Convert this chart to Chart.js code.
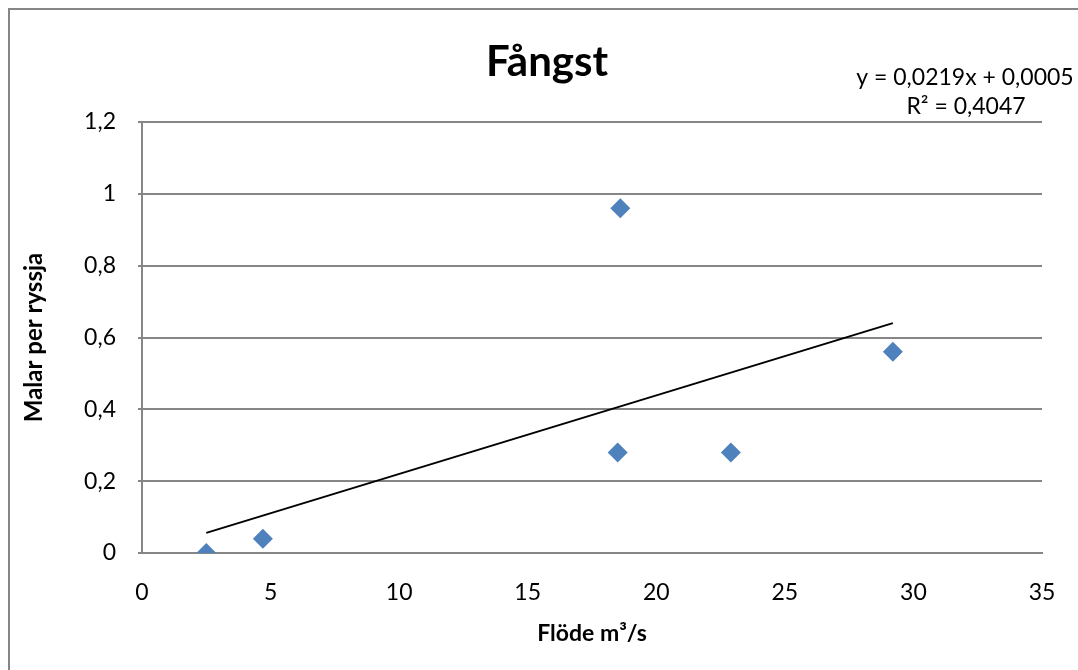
<!DOCTYPE html>
<html>
<head>
<meta charset="utf-8">
<script src="https://cdn.jsdelivr.net/npm/chart.js@4"></script>
<style>
  html, body { margin: 0; padding: 0; background: #fff; }
  canvas { display: block; }
</style>
</head>
<body>
<canvas id="catchChart" width="1078" height="670"></canvas>
<script>
const flow = [2.5, 4.7, 18.5, 18.6, 22.9, 29.2];
const catchPerNet = [0, 0.04, 0.28, 0.96, 0.28, 0.56];
const trendX = [2.5, 29.2];
const trendY = [0.056, 0.64];
const chartTitle = 'Fångst';
const equationLines = ['y = 0,0219x + 0,0005', 'R² = 0,4047'];

const FONT = 'Lato, "Open Sans", sans-serif';
const GRID = '#868686';

function toPoints(xs, ys) {
	return xs.map((x, i) => ({ x: x, y: ys[i] }));
}

// frame round the whole chart, title and trendline equation
const extras = {
	id: 'extras',
	beforeDraw(chart) {
		const ctx = chart.ctx;
		ctx.save();
		ctx.fillStyle = '#fff';
		ctx.fillRect(0, 0, chart.width, chart.height);
		ctx.strokeStyle = GRID;
		ctx.lineWidth = 2;
		ctx.strokeRect(9, 9, chart.width + 20, chart.height + 20);
		ctx.restore();
	},
	afterDraw(chart) {
		const ctx = chart.ctx;
		ctx.save();
		ctx.fillStyle = '#000';
		ctx.textAlign = 'center';
		ctx.textBaseline = 'middle';
		ctx.font = 'bold 42px ' + FONT;
		ctx.fillText(chartTitle, 547, 62);
		ctx.font = '23px ' + FONT;
		ctx.fillText(equationLines[0], 965, 78);
		ctx.fillText(equationLines[1], 966, 107);
		ctx.restore();
	}
};

new Chart(document.getElementById('catchChart'), {
	type: 'scatter',
	data: {
		datasets: [{
			label: 'Fångst',
			data: toPoints(flow, catchPerNet),
			pointStyle: 'rectRot',
			pointRadius: 10,
			pointHoverRadius: 10,
			backgroundColor: '#4F81BD',
			borderColor: '#4F81BD',
			borderWidth: 0,
			order: 1
		}, {
			label: 'Trend',
			type: 'line',
			data: toPoints(trendX, trendY),
			borderColor: '#000',
			borderWidth: 2,
			pointRadius: 0,
			fill: false,
			order: 2
		}]
	},
	options: {
		responsive: false,
		animation: false,
		devicePixelRatio: 1,
		layout: { padding: { left: 0, right: 36, top: 122, bottom: 0 } },
		plugins: {
			legend: { display: false },
			tooltip: { enabled: false },
			title: { display: false }
		},
		scales: {
			x: {
				type: 'linear',
				min: 0,
				max: 35,
				ticks: {
					stepSize: 5,
					color: '#000',
					padding: 18,
					font: { family: FONT, size: 23 }
				},
				grid: { display: false },
				border: { display: true, color: GRID, width: 2 },
				title: {
					display: true,
					text: 'Flöde m³/s',
					color: '#000',
					font: { family: FONT, size: 23, weight: 'bold', lineHeight: 1.2 },
					padding: { top: 0, bottom: 23 }
				},
				afterFit(scale) { scale.height = 117; }
			},
			y: {
				min: 0,
				max: 1.2,
				ticks: {
					stepSize: 0.2,
					color: '#000',
					padding: 22,
					font: { family: FONT, size: 23 },
					callback: v => String(Math.round(v * 10) / 10).replace('.', ',')
				},
				grid: { color: GRID, lineWidth: 2, tickLength: 4, drawTicks: true },
				border: { display: true, color: GRID, width: 2 },
				title: {
					display: true,
					text: 'Malar per ryssja',
					color: '#000',
					font: { family: FONT, size: 24, weight: 'bold', lineHeight: 1.2 },
					padding: { top: 20, bottom: 0 }
				},
				afterFit(scale) { scale.width = 142; }
			}
		}
	},
	plugins: [extras]
});
</script>
</body>
</html>
